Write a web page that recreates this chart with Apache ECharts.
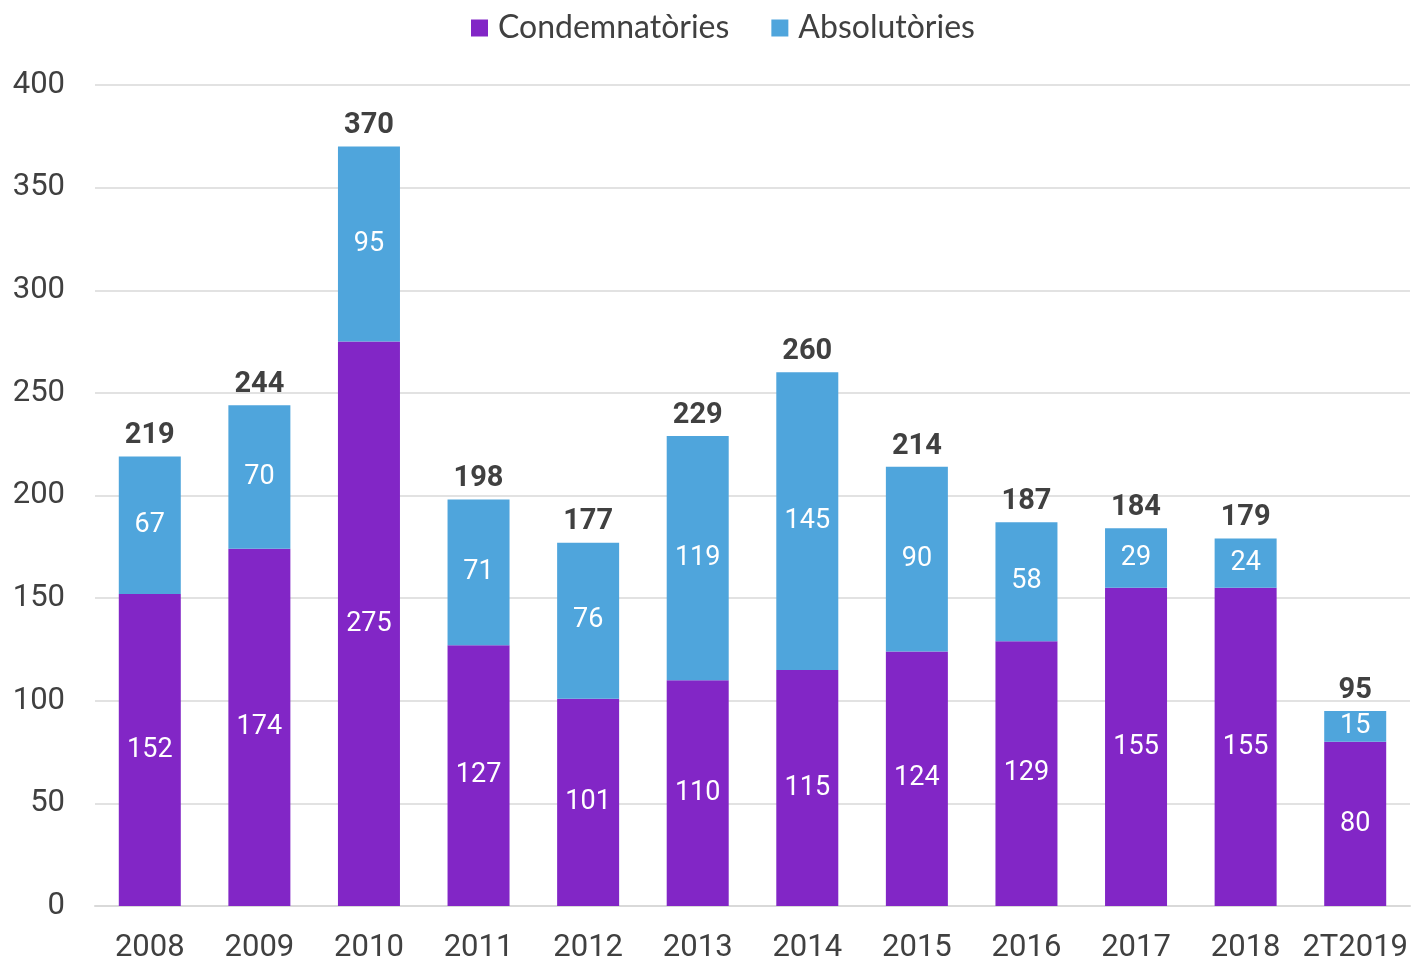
<!DOCTYPE html>
<html><head><meta charset="utf-8">
<script src="https://cdn.jsdelivr.net/npm/echarts@6/dist/echarts.min.js"></script>
<style>html,body{margin:0;padding:0;background:#fff}#c{width:1411px;height:959px}</style>
</head><body><div id="c"></div>
<script>
const categories = ['2008','2009','2010','2011','2012','2013','2014','2015','2016','2017','2018','2T2019'];
const condemnatories = [152,174,275,127,101,110,115,124,129,155,155,80];
const absolutories = [67,70,95,71,76,119,145,90,58,29,24,15];
const totals = [219,244,370,198,177,229,260,214,187,184,179,95];
const yTicks = [0,50,100,150,200,250,300,350,400];

const chart = echarts.init(document.getElementById('c'), null, {renderer:'canvas'});
const inLabel = {show:true, position:'inside', color:'#fff', fontFamily:'Roboto', fontSize:27, padding:[5,0,0,0]};
chart.setOption({
  animation:false,
  legend:{
    top:7, left:466, itemWidth:17, itemHeight:17, itemGap:42,
    icon:'rect',
    textStyle:{fontFamily:'Lato', fontSize:32, color:'#404040', padding:[0,0,0,5]},
    data:['Condemnatòries','Absolutòries']
  },
  grid:{left:95, right:1, top:85, bottom:53, containLabel:false, outerBoundsMode:'none'},
  xAxis:{
    type:'category', data:categories,
    axisLine:{lineStyle:{color:'#d9d9d9', width:2}},
    axisTick:{show:false},
    axisLabel:{fontFamily:'Roboto', fontSize:31, color:'#404040', margin:27, interval:0}
  },
  yAxis:{
    type:'value', min:yTicks[0], max:yTicks[yTicks.length-1], interval:50,
    axisLine:{show:false}, axisTick:{show:false},
    splitLine:{lineStyle:{color:'#d9d9d9', width:1.5}},
    axisLabel:{fontFamily:'Roboto', fontSize:31, color:'#404040', margin:30, padding:[5,0,0,0]}
  },
  series:[
    {name:'Condemnatòries', type:'bar', stack:'a', data:condemnatories, barWidth:62,
     itemStyle:{color:'#8226C6'}, label:inLabel},
    {name:'Absolutòries', type:'bar', stack:'a', data:absolutories, barWidth:62,
     itemStyle:{color:'#4FA5DC'}, label:inLabel},
    {name:'Total', type:'bar', stack:'a', data:totals.map(()=>0), barWidth:62,
     itemStyle:{color:'transparent'}, tooltip:{show:false},
     label:{show:true, position:'top', distance:6, fontFamily:'Roboto', fontWeight:'bold', fontSize:29, color:'#404040',
       formatter:p=>totals[p.dataIndex]}}
  ]
});
</script></body></html>
